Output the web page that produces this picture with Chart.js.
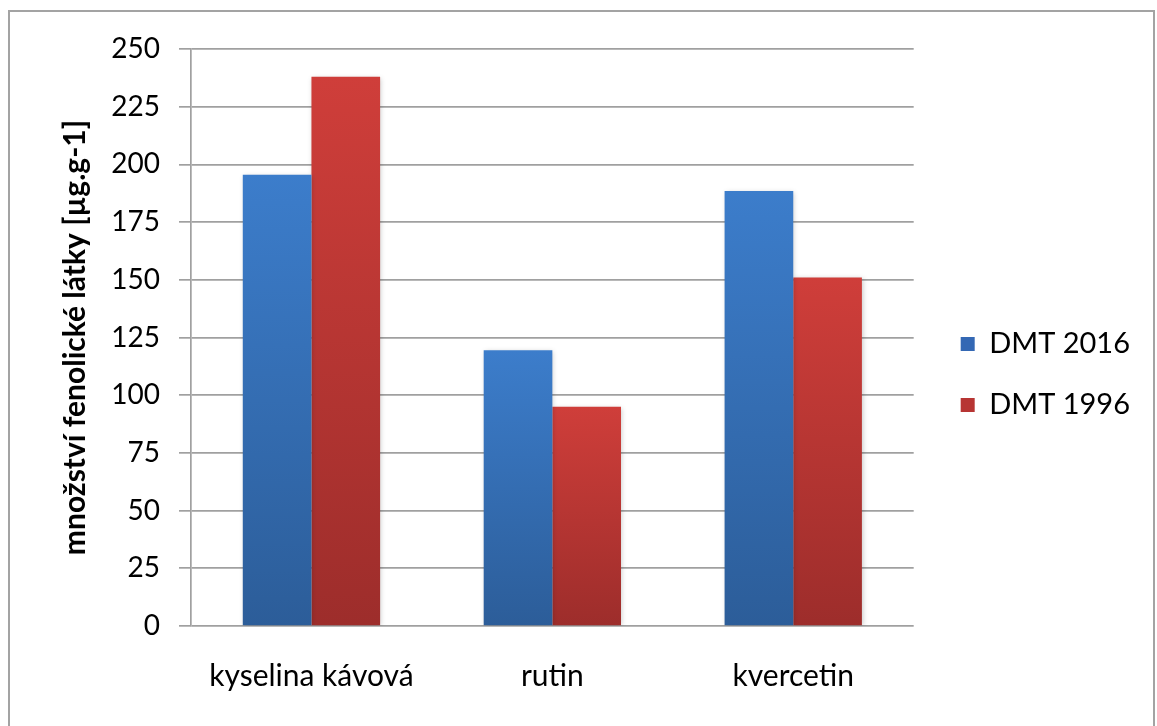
<!DOCTYPE html>
<html lang="cs">
<head>
<meta charset="utf-8">
<title>Fenolické látky – DMT 2016 a DMT 1996</title>
<script src="https://cdn.jsdelivr.net/npm/chart.js@4.4.1/dist/chart.umd.min.js"></script>
<style>
  html, body { margin: 0; padding: 0; background: #fff; }
  #wrap { width: 1157px; height: 726px; position: relative; }
  canvas { display: block; }
</style>
</head>
<body>
<div id="wrap"><canvas id="c" width="1157" height="726"></canvas></div>
<script>
// Categories, series and axis ticks
const categories = ['kyselina kávová', 'rutin', 'kvercetin'];
const seriesNames = ['DMT 2016', 'DMT 1996'];
const dmt2016 = [195.5, 119.5, 188.5];
const dmt1996 = [238, 95, 151];
const yTicks = [0, 25, 50, 75, 100, 125, 150, 175, 200, 225, 250];
const yTitle = 'množství fenolické látky [µg.g-1]';

// Gradient stops per series: lighter at the top, darker at the base
const seriesTop = ['#3C7DCB', '#CF3E3A'];
const seriesBottom = ['#2C5D99', '#9D2D2B'];
const seriesSolid = ['#3468B4', '#B73533'];

const FONT = 'Lato, "Open Sans", "DejaVu Sans", sans-serif';

function barGradient(si) {
  return (ctx) => {
    const chart = ctx.chart;
    const ys = chart.scales && chart.scales.y;
    if (ctx.type !== 'data' || !ys || !chart.chartArea) return seriesSolid[si];
    const top = ys.getPixelForValue(ctx.raw);
    const base = ys.getPixelForValue(0);
    if (!isFinite(top) || !isFinite(base) || top === base) return seriesSolid[si];
    const g = chart.ctx.createLinearGradient(0, top, 0, base);
    g.addColorStop(0, seriesTop[si]);
    g.addColorStop(1, seriesBottom[si]);
    return g;
  };
}

// Outer chart frame
const framePlugin = {
  id: 'frame',
  beforeDraw(chart) {
    const c = chart.ctx;
    c.save();
    c.fillStyle = '#ffffff';
    c.fillRect(0, 0, chart.width, chart.height);
    c.strokeStyle = '#a3a3a3';
    c.lineWidth = 2;
    c.strokeRect(9, 11, 1145, 740);
    c.restore();
  }
};

// Soft shadow under the bars
const shadowPlugin = {
  id: 'barShadow',
  beforeDatasetsDraw(chart) {
    const c = chart.ctx;
    c.save();
    c.shadowColor = 'rgba(0,0,0,0.22)';
    c.shadowBlur = 5;
    c.shadowOffsetX = 1;
    c.shadowOffsetY = 1;
  },
  afterDatasetsDraw(chart) {
    chart.ctx.restore();
  }
};

// Leaves a gap between the plot area and the legend, and lifts the legend a little
const legendGap = 15;
const legendLift = 13;
const legendShift = {
  id: 'legendShift',
  afterLayout(chart) {
    const lg = chart.legend;
    if (lg) {
      lg.left += legendGap; lg.right += legendGap;
      lg.top -= legendLift; lg.bottom -= legendLift;
    }
  }
};

const plotLeft = 191;
const padLeft = 57;

new Chart(document.getElementById('c'), {
  type: 'bar',
  data: {
    labels: categories,
    datasets: [
      { label: seriesNames[0], data: dmt2016, backgroundColor: barGradient(0) },
      { label: seriesNames[1], data: dmt1996, backgroundColor: barGradient(1) }
    ]
  },
  options: {
    responsive: false,
    animation: false,
    events: [],
    devicePixelRatio: 1,
    layout: { padding: { left: padLeft, right: 32, top: 49, bottom: 0 } },
    datasets: {
      bar: { categoryPercentage: 0.57, barPercentage: 1.0, borderWidth: 0 }
    },
    scales: {
      x: {
        grid: { display: false, drawTicks: false },
        border: { display: false },
        ticks: {
          color: '#000',
          padding: 32,
          font: { family: FONT, size: 30 }
        },
        afterFit(scale) { scale.height = 100; }
      },
      y: {
        min: 0,
        max: 250,
        afterBuildTicks(scale) { scale.ticks = yTicks.map(v => ({ value: v })); },
        grid: { color: '#a0a0a0', lineWidth: 1.7, tickLength: 12, drawTicks: true },
        border: { display: true, color: '#a0a0a0', width: 1.7 },
        ticks: {
          color: '#000',
          padding: 19,
          font: { family: FONT, size: 28 }
        },
        title: {
          display: true,
          text: yTitle,
          color: '#000',
          padding: { top: 0, bottom: 0 },
          font: { family: FONT, size: 30, weight: 'bold' }
        },
        afterFit(scale) { scale.width = plotLeft - padLeft; }
      }
    },
    plugins: {
      legend: {
        position: 'right',
        align: 'center',
        labels: {
          color: '#000',
          boxWidth: 14,
          boxHeight: 14,
          padding: 32,
          font: { family: FONT, size: 29, lineHeight: 1 },
          generateLabels(chart) {
            return chart.data.datasets.map((ds, i) => ({
              text: ds.label,
              fillStyle: seriesSolid[i],
              strokeStyle: seriesSolid[i],
              lineWidth: 0,
              hidden: false,
              datasetIndex: i,
              fontColor: '#000'
            }));
          }
        }
      },
      tooltip: { enabled: false }
    }
  },
  plugins: [framePlugin, shadowPlugin, legendShift]
});
</script>
</body>
</html>
